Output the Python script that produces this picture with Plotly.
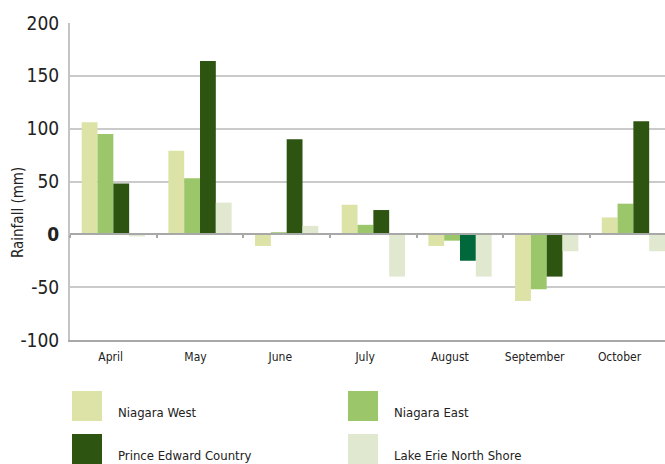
import plotly.graph_objects as go

months = ["April", "May", "June", "July", "August", "September", "October"]
series_names = ["Niagara West", "Niagara East", "Prince Edward Country", "Lake Erie North Shore"]
niagara_west = [106, 79, -11, 28, -11, -63, 16]
niagara_east = [95, 53, 2, 9, -6, -52, 29]
prince_edward = [48, 164, 90, 23, -25, -40, 107]
lake_erie = [-2, 30, 8, -40, -40, -16, -16]
series_values = [niagara_west, niagara_east, prince_edward, lake_erie]
series_colors = ["#dde3a7", "#9bc66a", "#2d5511", "#e0e8d0"]
highlight_color = "#00683a"   # August bar of Prince Edward Country
y_ticks = [-100, -50, 0, 50, 100, 150, 200]
y_title = "Rainfall (mm)"

FONT = "DejaVu Sans Condensed, Liberation Sans Narrow, Roboto Condensed, Arial Narrow, sans-serif"
W, H = 665, 464
ML, MR, MT, MB = 70, 0, 23, 124
PW, PH = W - ML - MR, H - MT - MB

fig = go.Figure()
for name, vals, col in zip(series_names, series_values, series_colors):
    colors = [col] * len(vals)
    if name == "Prince Edward Country":
        colors[months.index("August")] = highlight_color
    fig.add_trace(go.Bar(x=months, y=vals, name=name, marker=dict(color=colors, line=dict(width=0)),
                         showlegend=False))

# invisible trace to carry the month labels axis
fig.add_trace(go.Scatter(x=list(range(len(months))), y=[None] * len(months), xaxis="x2",
                         showlegend=False, hoverinfo="skip", mode="markers"))

ytext = [("<b>0</b>" if v == 0 else str(v)) for v in y_ticks]

fig.update_layout(
    width=W, height=H,
    margin=dict(l=ML, r=MR, t=MT, b=MB, pad=0),
    paper_bgcolor="white", plot_bgcolor="white",
    barmode="group", bargap=0.27, bargroupgap=0,
    font=dict(family=FONT, color="#222222"),
    showlegend=False,
    xaxis=dict(type="category", range=[-0.5, 6.365], anchor="free", position=1/3,
               showline=True, linecolor="#a8a8a8", linewidth=2,
               ticks="outside", tickson="boundaries", ticklen=3, tickcolor="#a8a8a8", tickwidth=2,
               showticklabels=False, showgrid=False, zeroline=False),
    xaxis2=dict(overlaying="x", anchor="y", side="bottom", type="linear",
                range=[-0.48, 6.537], tickmode="array", tickvals=list(range(len(months))),
                ticktext=months, showline=True, linecolor="#a8a8a8", linewidth=2,
                ticks="", showgrid=False, zeroline=False, ticklabelstandoff=5,
                tickfont=dict(family=FONT, size=12, color="#222222")),
    yaxis=dict(range=[-100, 200], tickmode="array", tickvals=y_ticks, ticktext=ytext,
               showline=True, linecolor="#c4c4c4", linewidth=2,
               showgrid=True, gridcolor="#cacaca", gridwidth=2, zeroline=False,
               ticks="", ticklabelstandoff=5,
               tickfont=dict(family=FONT, size=19, color="#222222")),
)

def px_x(p):
    return (p - ML) / PW

def px_y(p):
    return (H - MB - p) / PH

# y-axis title (sits below the plot centre in the reference)
fig.add_annotation(text=y_title, xref="paper", yref="paper", x=px_x(18), y=px_y(213),
                   xanchor="center", yanchor="middle", textangle=-90, showarrow=False,
                   font=dict(family=FONT, size=15, color="#222222"))

# custom legend (2 x 2 grid) built from the series arrays
col_x = [72, 348]
row_y = [391, 434]
sw_w, sw_h = 30, 30
for i, (name, col) in enumerate(zip(series_names, series_colors)):
    r, c = divmod(i, 2)
    x0, y0 = col_x[c], row_y[r]
    fig.add_shape(type="rect", xref="paper", yref="paper",
                  x0=px_x(x0), x1=px_x(x0 + sw_w), y0=px_y(y0), y1=px_y(y0 + sw_h + (10 if r == 1 else 0)),
                  fillcolor=col, line=dict(width=0), layer="above")
    fig.add_annotation(text=name, xref="paper", yref="paper", x=px_x(x0 + 44), y=px_y(y0 + 21),
                       xanchor="left", yanchor="middle", showarrow=False,
                       font=dict(family=FONT, size=13, color="#222222"))

fig.write_html("out.html", config={"displayModeBar": False},
               post_script="document.body.style.margin='0';document.body.style.overflow='hidden';")
